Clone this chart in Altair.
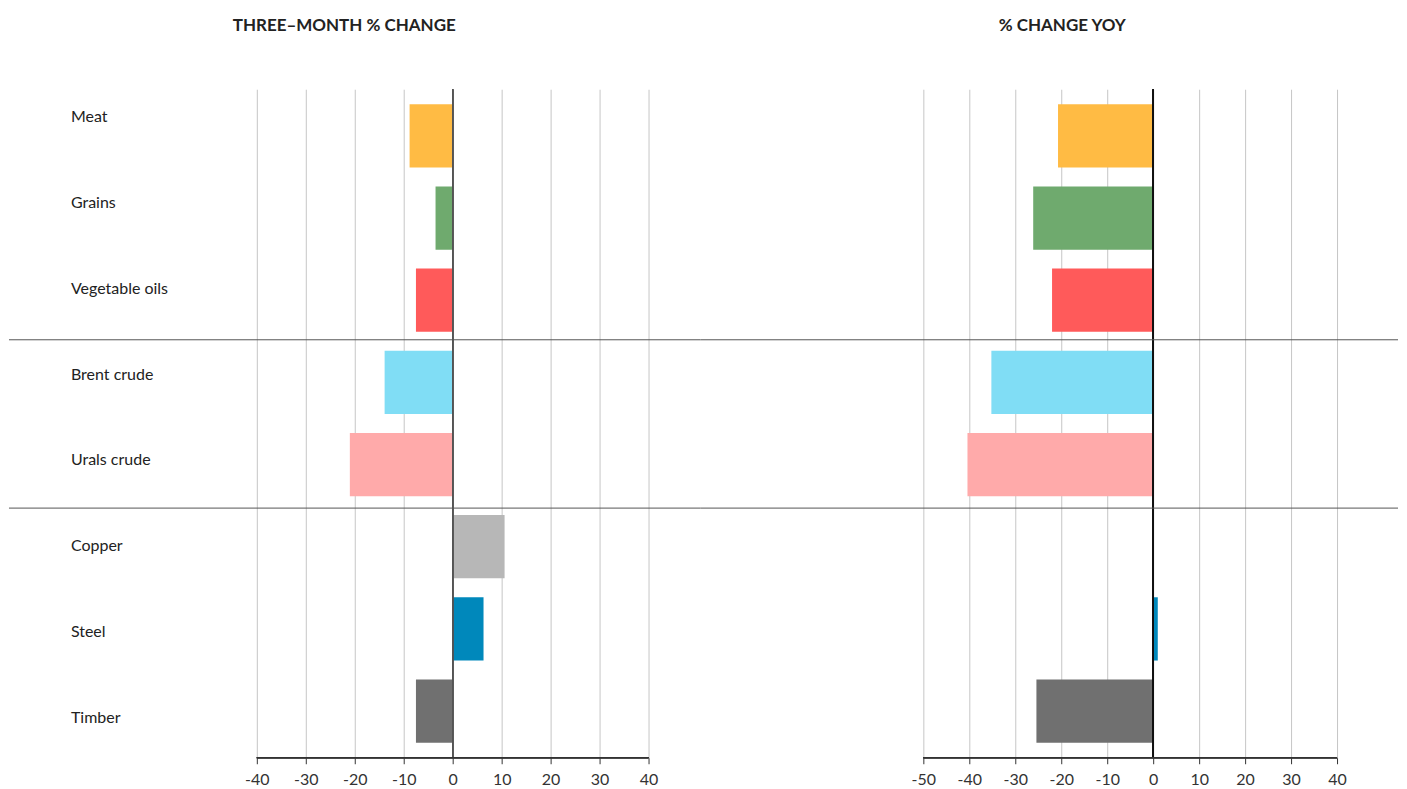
import altair as alt
import pandas as pd

categories = ["Meat", "Grains", "Vegetable oils", "Brent crude", "Urals crude",
              "Copper", "Steel", "Timber"]
three_month = [-8.8, -3.5, -7.5, -13.9, -21.0, 10.6, 6.3, -7.5]
yoy = [-20.7, -26.1, -22.0, -35.2, -40.4, 0.0, 1.0, -25.4]
colors = ["#FFBB44", "#6FAA6E", "#FF5A5A", "#80DDF5", "#FFAAAA",
          "#B7B7B7", "#0088BB", "#707070"]
left_ticks = [-40, -30, -20, -10, 0, 10, 20, 30, 40]
right_ticks = [-50, -40, -30, -20, -10, 0, 10, 20, 30, 40]
group_starts = ["Brent crude", "Copper"]

df = pd.DataFrame({"category": categories, "three": three_month, "yoy": yoy})

FONT = "Lato"
H = 669
ysc = alt.Scale(domain=categories, paddingInner=0.23, paddingOuter=0.183)
label_sc = alt.Scale(type="point", domain=categories, range=[28, 629], padding=0)
color = alt.Color("category:N", scale=alt.Scale(domain=categories, range=colors), legend=None)
SEP_SHIFT = {"Brent crude": -11, "Copper": -7}


def panel(field, title, ticks, domain, width, zero_color, with_labels, title_dx):
    xs = alt.Scale(domain=domain, nice=False, zero=False)
    axis = alt.Axis(values=ticks, grid=True, gridColor="#c6c6c6", gridWidth=1,
                    domain=False, ticks=True, tickColor="#333333", tickSize=6,
                    labelFont=FONT, labelFontSize=16, labelColor="#333333",
                    labelPadding=8, labelExpr="'' + datum.value", title=None,
                    labelFlush=False)
    base = alt.Chart(df)
    bars = base.mark_bar().encode(
        x=alt.X(f"{field}:Q", scale=xs, axis=axis),
        x2=alt.datum(0),
        y=alt.Y("category:N", scale=ysc, axis=None, sort=categories),
        color=color,
    )
    zero = base.mark_rule(color=zero_color, strokeWidth=1.2).encode(
        x=alt.datum(0), y=alt.value(0), y2=alt.value(H)
    )
    baseline = base.mark_rule(color="#333333", strokeWidth=1).encode(
        x=alt.datum(ticks[0]), x2=alt.datum(ticks[-1]), y=alt.value(H)
    )
    layers = [bars, zero, baseline]
    for g in group_starts:
        sep = alt.Chart(pd.DataFrame({"category": [g]})).mark_rule(
            color="#555555", strokeWidth=1, yOffset=SEP_SHIFT[g]
        ).encode(
            y=alt.Y("category:N", scale=ysc, axis=None, bandPosition=0, sort=categories),
            x=alt.value(0), x2=alt.value(width),
        )
        layers.append(sep)
    if with_labels:
        labels = base.mark_text(align="left", baseline="middle", font=FONT,
                                fontSize=16, color="#222222").encode(
            y=alt.Y("category:N", scale=label_sc, axis=None, sort=categories),
            x=alt.value(62),
            text="category:N",
        )
        layers.append(labels)
    ch = alt.layer(*layers).properties(
        width=width, height=H,
        title=alt.Title(title, font=FONT, fontSize=17, fontWeight="bold",
                        color="#222222", anchor="middle", dx=title_dx, offset=54),
    )
    if with_labels:
        ch = ch.resolve_scale(y="independent")
    return ch


left = panel("three", "THREE\u2013MONTH % CHANGE", left_ticks,
             [-444 / 4.9, (692 - 444) / 4.9], 692, "#555555", True, -10.5)
right = panel("yoy", "% CHANGE YOY", right_ticks,
              [-453 / 4.6, (698 - 453) / 4.6], 698, "#111111", False, 13)

chart = alt.hconcat(left, right, spacing=0, bounds="flush").properties(
    padding={"left": 0, "top": 8, "right": 0, "bottom": 0}
).configure(font=FONT).configure_view(strokeWidth=0, stroke="transparent")

chart.save("out.html", embed_options={"renderer": "svg", "actions": False})
